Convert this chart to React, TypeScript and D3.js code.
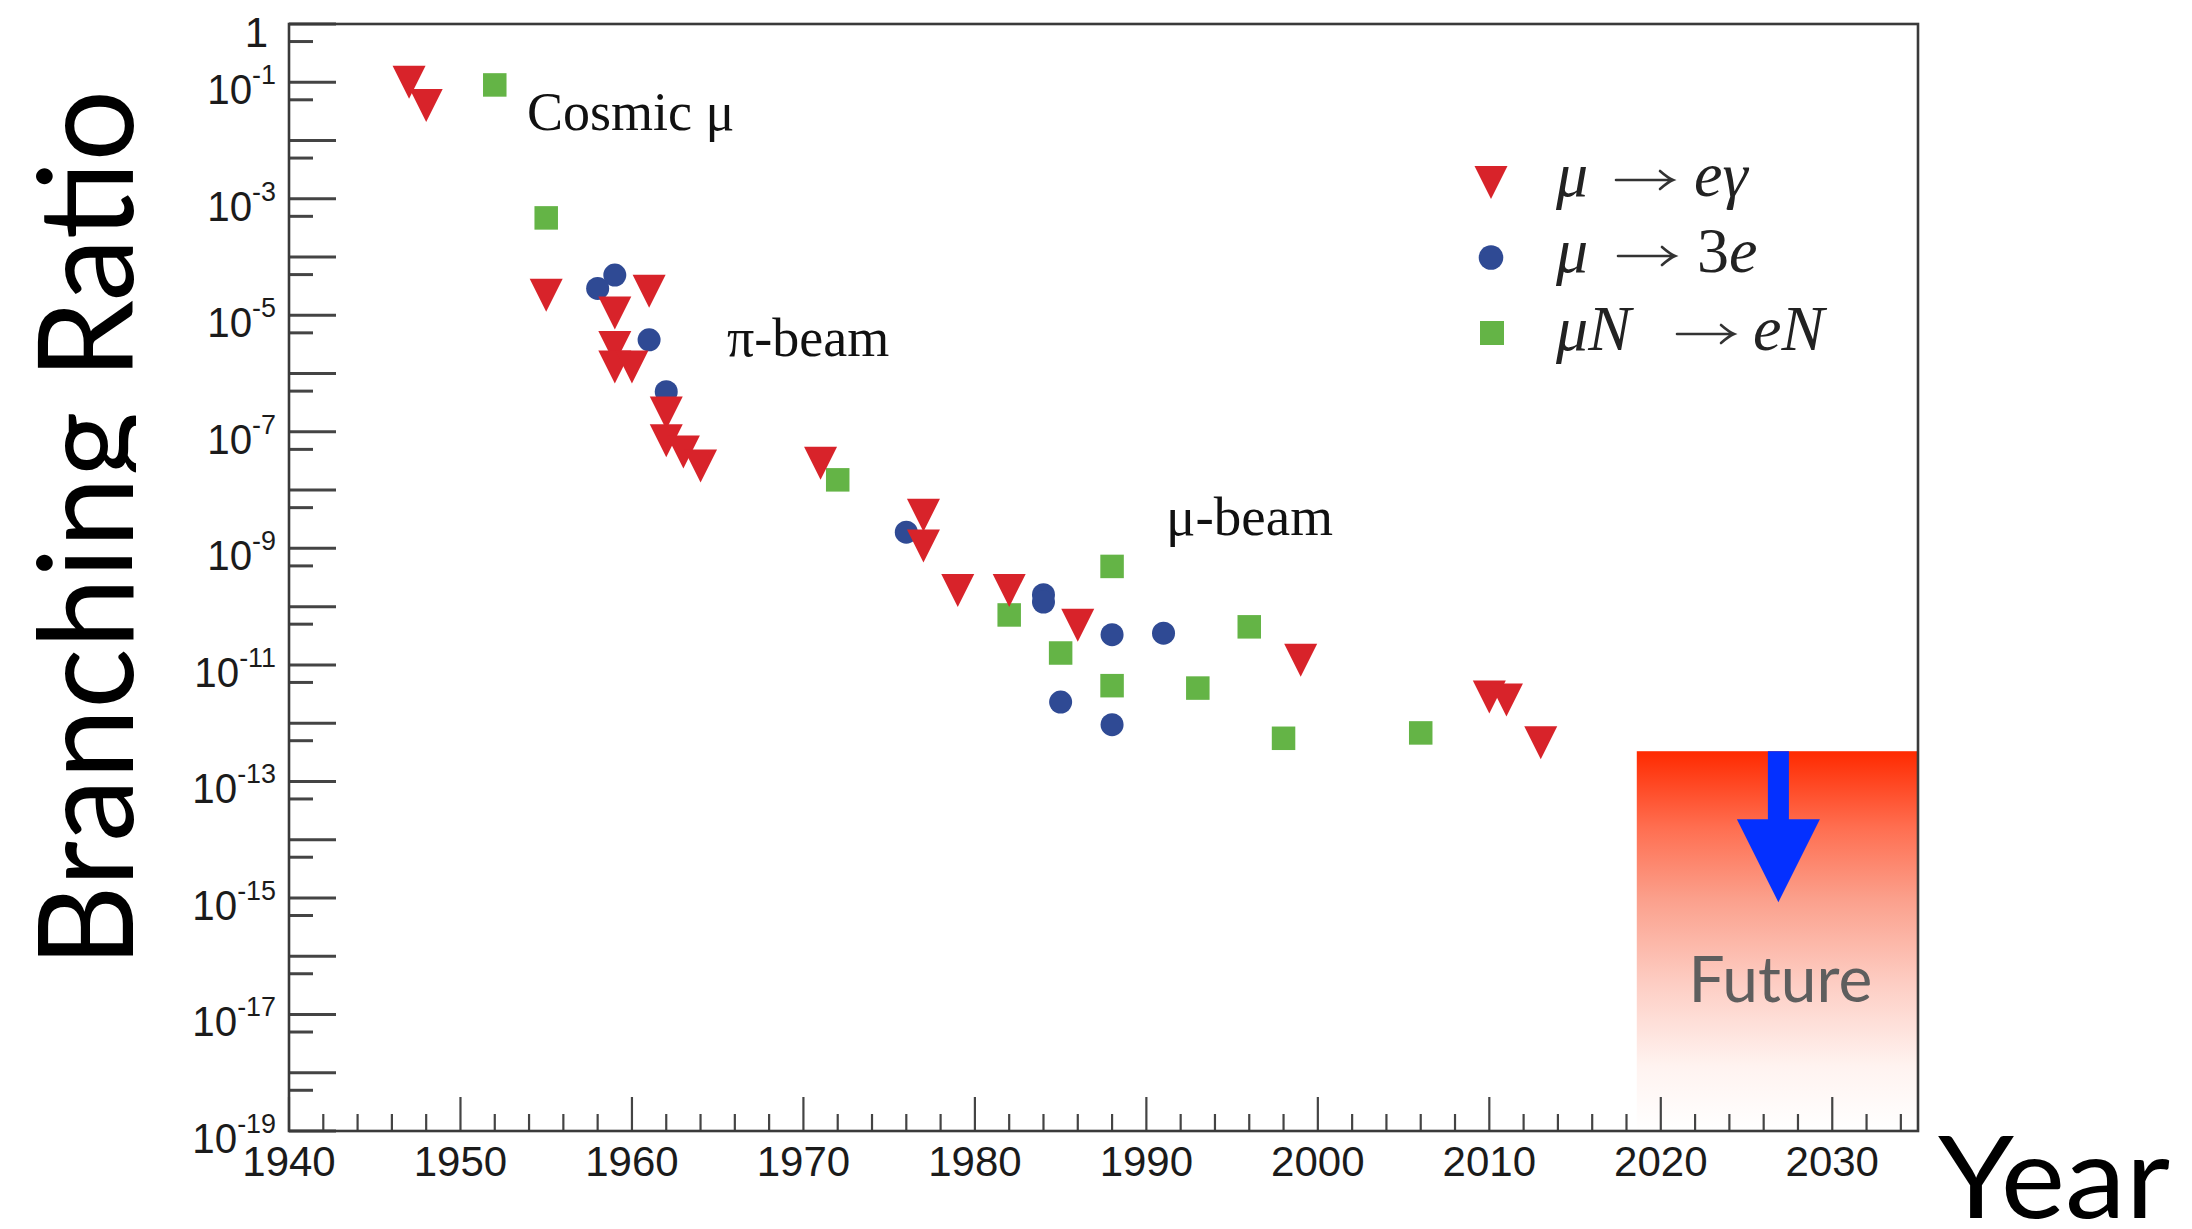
import React, { useEffect } from 'react';
import * as d3 from 'd3';

// μ → eγ (red, down triangles)
const megYears = [1947, 1948, 1955, 1959, 1959, 1959, 1960, 1961, 1962, 1962, 1963, 1964, 1971, 1977, 1977, 1979, 1982, 1986, 1999, 2010, 2011, 2013];
const megValues = [1.0e-1, 4.0e-2, 2.2e-5, 1.1e-5, 2.8e-6, 1.3e-6, 1.3e-6, 2.6e-5, 2.1e-7, 7.0e-8, 4.5e-8, 2.6e-8, 2.9e-8, 3.7e-9, 1.1e-9, 1.9e-10, 1.9e-10, 4.8e-11, 1.2e-11, 2.8e-12, 2.5e-12, 4.6e-13];

// μ → 3e (blue circles)
const m3eYears = [1958, 1959, 1961, 1962, 1976, 1984, 1984, 1985, 1988, 1988, 1991];
const m3eValues = [2.9e-5, 4.9e-5, 3.8e-6, 4.9e-7, 1.9e-9, 1.6e-10, 1.2e-10, 2.3e-12, 3.3e-11, 9.4e-13, 3.5e-11];

// μN → eN (green squares)
const muNYears = [1952, 1955, 1972, 1982, 1985, 1988, 1988, 1993, 1996, 1998, 2006];
const muNValues = [9.0e-2, 4.7e-4, 1.5e-8, 7.2e-11, 1.6e-11, 4.9e-10, 4.4e-12, 4.0e-12, 4.5e-11, 5.5e-13, 6.8e-13];

const xTickLabels = ['1940', '1950', '1960', '1970', '1980', '1990', '2000', '2010', '2020', '2030'];
const yLabelExponents = [-1, -3, -5, -7, -9, -11, -13, -15, -17, -19];

const futureFromYear = 2018.6;
const futureLevel = 3.3e-13;

const RED = '#d8232a';
const BLUE = '#2f4a94';
const GREEN = '#64b446';

function arrowPath(xa: number, xb: number, yy: number) {
  return `M${xa},${yy}L${xb},${yy}M${xb - 13},${yy - 9}Q${xb - 5},${yy - 2} ${xb},${yy}Q${xb - 5},${yy + 2} ${xb - 13},${yy + 9}`;
}

export default function App() {
  useEffect(() => {
    document.body.style.margin = '0';
  }, []);

  const x = d3.scaleLinear().domain([1940, 2035]).range([289, 1918]);
  const y = d3.scaleLog().domain([1e-19, 1]).range([1131, 24]);

  const [x0, x1] = x.range();
  const [yb, yt] = y.range();

  const majorX = xTickLabels.map(Number);
  const minorX = d3.range(1940, 2035, 2).filter((v) => v % 10 !== 0);
  const decades = d3.range(-19, 1).map((k) => Math.pow(10, k));
  const halfDecades = d3.range(-19, 0).map((k) => 5 * Math.pow(10, k));

  const tri = 'M-16.5,-16.5L16.5,-16.5L0,16.5Z';

  const fx = x(futureFromYear);
  const fy = y(futureLevel);
  const arrowX = (fx + x1) / 2 + 1;

  const serif = '"Liberation Serif", "DejaVu Serif", serif';
  const sans = '"Liberation Sans", Arial, sans-serif';

  return (
    <svg width={2192} height={1229} style={{ position: 'absolute', left: 0, top: 0, background: '#fff' }}>
      <defs>
        <linearGradient id="futGrad" x1="0" y1="0" x2="0" y2="1">
          <stop offset="0" stopColor="#ff2a00" />
          <stop offset="0.2" stopColor="#ff6e50" />
          <stop offset="0.39" stopColor="#fba08c" />
          <stop offset="0.61" stopColor="#fdcdc3" />
          <stop offset="0.83" stopColor="#fff3f0" />
          <stop offset="1" stopColor="#ffffff" />
        </linearGradient>
        <clipPath id="ylabClip">
          <rect x={0} y={0} width={136} height={1229} />
        </clipPath>
      </defs>
      <rect x={0} y={0} width={2192} height={1229} fill="#fff" />

      {/* Future box */}
      <rect x={fx} y={fy} width={x1 - fx} height={yb - fy} fill="url(#futGrad)" />
      <rect x={arrowX - 10.5} y={fy} width={21} height={69} fill="#0430ff" />
      <path d={`M${arrowX - 41.5},${fy + 68}L${arrowX + 41.5},${fy + 68}L${arrowX},${fy + 151}Z`} fill="#0430ff" />
      <text x={arrowX + 2} y={1002} textAnchor="middle" fontFamily="Lato, sans-serif" fontSize={64} fill="#5e5e5e">Future</text>

      {/* y ticks */}
      {decades.map((v, i) => (
        <line key={'yd' + i} x1={x0} x2={x0 + 47} y1={y(v)} y2={y(v)} stroke="#444" strokeWidth={3} />
      ))}
      {halfDecades.map((v, i) => (
        <line key={'yh' + i} x1={x0} x2={x0 + 24} y1={y(v)} y2={y(v)} stroke="#444" strokeWidth={3} />
      ))}
      {/* x ticks */}
      {majorX.map((v, i) => (
        <line key={'xM' + i} x1={x(v)} x2={x(v)} y1={yb} y2={yb - 34} stroke="#444" strokeWidth={2.2} />
      ))}
      {minorX.map((v, i) => (
        <line key={'xm' + i} x1={x(v)} x2={x(v)} y1={yb} y2={yb - 17} stroke="#444" strokeWidth={2.2} />
      ))}

      {/* frame */}
      <rect x={x0} y={yt} width={x1 - x0} height={yb - yt} fill="none" stroke="#3a3a3a" strokeWidth={2.6} />

      {/* y labels */}
      <text x={268} y={yt + 23} textAnchor="end" fontFamily={sans} fontSize={42} fill="#1b1b1b">1</text>
      {yLabelExponents.map((k) => (
        <g key={'yl' + k} transform={`translate(276,${y(Math.pow(10, k))}) scale(0.96,1)`}>
          <text x={0} y={22} textAnchor="end" fontFamily={sans} fontSize={42} fill="#1b1b1b">
            <tspan>10</tspan>
            <tspan fontSize={28} dy={-20}>{`-${-k}`}</tspan>
          </text>
        </g>
      ))}

      {/* x labels */}
      {xTickLabels.map((t) => (
        <text key={'xl' + t} x={x(Number(t))} y={1176} textAnchor="middle" fontFamily={sans} fontSize={42} fill="#1b1b1b">{t}</text>
      ))}

      {/* data */}
      {muNYears.map((yr, i) => (
        <rect key={'g' + i} x={x(yr) - 11.75} y={y(muNValues[i]) - 11.75} width={23.5} height={23.5} fill={GREEN} />
      ))}
      {m3eYears.map((yr, i) => (
        <circle key={'b' + i} cx={x(yr)} cy={y(m3eValues[i])} r={11.5} fill={BLUE} />
      ))}
      {megYears.map((yr, i) => (
        <path key={'r' + i} d={tri} transform={`translate(${x(yr)},${y(megValues[i])})`} fill={RED} />
      ))}

      {/* annotations */}
      <text x={527} y={130} fontFamily={serif} fontSize={54} fill="#111">Cosmic μ</text>
      <text x={727} y={356} fontFamily={serif} fontSize={54} fill="#111">π-beam</text>
      <text x={1166} y={535} fontFamily={serif} fontSize={55} fill="#111">μ-beam</text>

      {/* legend */}
      <path d={tri} transform="translate(1491,182.5)" fill={RED} />
      <circle cx={1491} cy={257.5} r={12.3} fill={BLUE} />
      <rect x={1480} y={321} width={24} height={24} fill={GREEN} />
      <g fontFamily={serif} fontSize={64} fill="#222">
        <text x={1556} y={196} fontStyle="italic">μ</text>
        <text x={1694} y={196} fontStyle="italic">eγ</text>

        <text x={1556} y={272} fontStyle="italic">μ</text>
        <text x={1697} y={272}>3<tspan fontStyle="italic">e</tspan></text>

        <text x={1556} y={350} fontStyle="italic">μN</text>
        <text x={1753} y={350} fontStyle="italic">eN</text>
      </g>
      <g fill="none" stroke="#333" strokeWidth={2.6} strokeLinecap="round">
        <path d={arrowPath(1616, 1673, 180)} />
        <path d={arrowPath(1618, 1675, 256)} />
        <path d={arrowPath(1677, 1734, 334)} />
      </g>

      {/* axis titles */}
      <g clipPath="url(#ylabClip)">
        <text transform="translate(133,967) rotate(-90)" x={0} y={0} fontFamily="Lato, sans-serif" fontSize={131} fill="#000" textLength={877} lengthAdjust="spacingAndGlyphs">Branching Ratio</text>
      </g>
      <text x={1938} y={1218} fontFamily="Lato, sans-serif" fontSize={115} fill="#000" textLength={232} lengthAdjust="spacingAndGlyphs">Year</text>
    </svg>
  );
}
